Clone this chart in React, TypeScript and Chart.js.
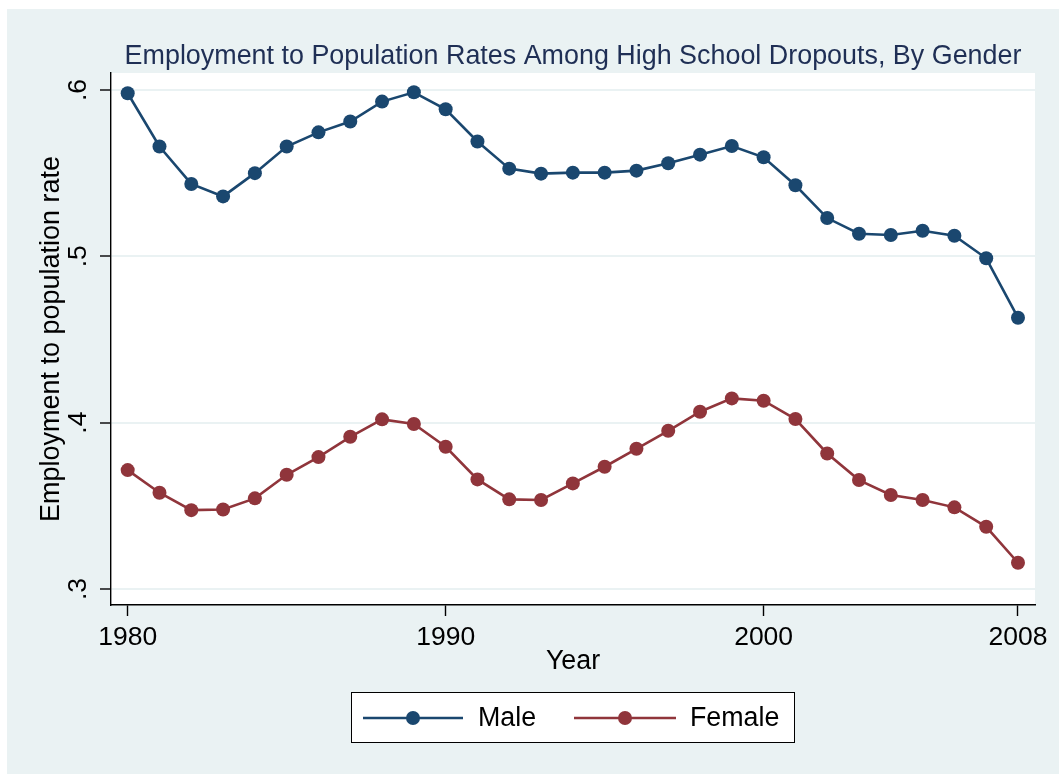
import React, { useEffect, useRef } from "react";
import { Chart, registerables } from "chart.js";

Chart.register(...registerables);

const years = [
  1980, 1981, 1982, 1983, 1984, 1985, 1986, 1987, 1988, 1989,
  1990, 1991, 1992, 1993, 1994, 1995, 1996, 1997, 1998, 1999,
  2000, 2001, 2002, 2003, 2004, 2005, 2006, 2007, 2008,
];

const maleRates = [
  0.598, 0.566, 0.5435, 0.536, 0.55, 0.566, 0.5745, 0.581, 0.593, 0.5986,
  0.5884, 0.569, 0.5527, 0.5497, 0.5503, 0.5503, 0.5515, 0.5559, 0.5611, 0.5663,
  0.5595, 0.5427, 0.523, 0.5136, 0.5128, 0.5154, 0.5124, 0.4988, 0.4631,
];

const femaleRates = [
  0.3715, 0.3579, 0.3474, 0.3478, 0.3545, 0.3687, 0.3793, 0.3915, 0.402, 0.3992,
  0.3855, 0.3659, 0.3539, 0.3535, 0.3635, 0.3735, 0.3843, 0.3951, 0.4066, 0.4146,
  0.4132, 0.4022, 0.3815, 0.3655, 0.3565, 0.3535, 0.3491, 0.3374, 0.3158,
];

const xTickValues = [1980, 1990, 2000, 2008];
const yTickValues = [0.3, 0.4, 0.5, 0.6];
const yTickLabels = [".3", ".4", ".5", ".6"];

const seriesNames = ["Male", "Female"];
const seriesColors = ["#1a476f", "#90353b"];

const titleText = "Employment to Population Rates Among High School Dropouts, By Gender";
const xTitle = "Year";
const yTitle = "Employment to population rate";

const FONT = "'Liberation Sans', Arial, sans-serif";
const BG = "#eaf2f3";

export default function App() {
  const canvasRef = useRef<HTMLCanvasElement | null>(null);

  useEffect(() => {
    document.body.style.margin = "0";
    const canvas = canvasRef.current;
    if (!canvas) return;

    const bgPlugin = {
      id: "bgPlugin",
      beforeDraw(chart: any) {
        const { ctx, chartArea } = chart;
        ctx.save();
        ctx.fillStyle = "#ffffff";
        ctx.fillRect(0, 0, chart.width, chart.height);
        ctx.fillStyle = BG;
        ctx.fillRect(7, 9, chart.width - 7, chart.height - 9);
        ctx.fillStyle = "#ffffff";
        ctx.fillRect(chartArea.left, chartArea.top, chartArea.right - chartArea.left, chartArea.bottom - chartArea.top);
        ctx.restore();
      },
    };

    const decorPlugin = {
      id: "decorPlugin",
      afterDraw(chart: any) {
        const { ctx } = chart;
        const yScale = chart.scales.y;
        ctx.save();
        // rotated y tick labels
        ctx.fillStyle = "#000";
        ctx.font = `26.5px ${FONT}`;
        ctx.textAlign = "center";
        ctx.textBaseline = "middle";
        yTickValues.forEach((v, i) => {
          const py = yScale.getPixelForValue(v);
          ctx.save();
          ctx.translate(79, py);
          ctx.rotate(-Math.PI / 2);
          ctx.fillText(yTickLabels[i], 0, 0);
          ctx.restore();
        });

        // legend box
        const bx = 351, by = 692, bw = 443, bh = 50;
        ctx.fillStyle = "#ffffff";
        ctx.fillRect(bx, by, bw, bh);
        ctx.strokeStyle = "#000";
        ctx.lineWidth = 1;
        ctx.strokeRect(bx + 0.5, by + 0.5, bw, bh);
        const cy = 718;
        const items = [
          { x0: 363, x1: 463, text: 478 },
          { x0: 574, x1: 676, text: 690 },
        ];
        items.forEach((it, i) => {
          ctx.strokeStyle = seriesColors[i];
          ctx.lineWidth = 2.6;
          ctx.beginPath();
          ctx.moveTo(it.x0, cy);
          ctx.lineTo(it.x1, cy);
          ctx.stroke();
          ctx.fillStyle = seriesColors[i];
          ctx.beginPath();
          ctx.arc((it.x0 + it.x1) / 2, cy, 7, 0, Math.PI * 2);
          ctx.fill();
          ctx.fillStyle = "#000";
          ctx.textAlign = "left";
          ctx.textBaseline = "middle";
          ctx.font = `26.8px ${FONT}`;
          ctx.fillText(seriesNames[i], it.text, cy + 1);
        });
        ctx.restore();
      },
    };

    const chart = new Chart(canvas, {
      type: "line",
      data: {
        datasets: [
          {
            label: seriesNames[0],
            data: years.map((yr, i) => ({ x: yr, y: maleRates[i] })),
            borderColor: seriesColors[0],
            backgroundColor: seriesColors[0],
            borderWidth: 2.6,
            pointRadius: 7,
            pointBorderWidth: 0,
            pointBackgroundColor: seriesColors[0],
            tension: 0,
          },
          {
            label: seriesNames[1],
            data: years.map((yr, i) => ({ x: yr, y: femaleRates[i] })),
            borderColor: seriesColors[1],
            backgroundColor: seriesColors[1],
            borderWidth: 2.6,
            pointRadius: 7,
            pointBorderWidth: 0,
            pointBackgroundColor: seriesColors[1],
            tension: 0,
          },
        ],
      },
      options: {
        animation: false,
        responsive: false,
        maintainAspectRatio: false,
        layout: { padding: { left: 0, top: 0, right: 24, bottom: 0 } },
        plugins: {
          legend: { display: false },
          tooltip: { enabled: false },
          title: {
            display: true,
            text: titleText,
            color: "#1f2f55",
            font: { family: FONT, size: 26.9, weight: "normal" },
            padding: { top: 40.7, bottom: 0 },
            fullSize: false,
          },
        },
        scales: {
          x: {
            type: "linear",
            min: 1979.475,
            max: 2008.535,
            afterBuildTicks: (scale: any) => {
              scale.ticks = xTickValues.map((v) => ({ value: v }));
            },
            afterFit: (scale: any) => {
              scale.height = 169;
              scale.paddingLeft = 0;
              scale.paddingRight = 0;
            },
            ticks: {
              color: "#000",
              font: { family: FONT, size: 26.5 },
              padding: 5.5,
              maxRotation: 0,
              minRotation: 0,
              autoSkip: false,
              callback: (v: any) => String(v),
            },
            grid: {
              drawOnChartArea: false,
              drawTicks: true,
              tickLength: 11,
              tickColor: "#000",
              tickWidth: 1.4,
            },
            border: { color: "#000", width: 1.4 },
            title: {
              display: true,
              text: xTitle,
              color: "#000",
              font: { family: FONT, size: 26.8 },
              padding: { top: 0, bottom: 96 },
            },
          },
          y: {
            type: "linear",
            min: 0.2904,
            max: 0.6102,
            afterBuildTicks: (scale: any) => {
              scale.ticks = yTickValues.map((v) => ({ value: v }));
            },
            afterFit: (scale: any) => {
              scale.width = 111;
            },
            ticks: { display: false },
            grid: {
              color: BG,
              lineWidth: 2,
              drawTicks: true,
              tickLength: 11,
              tickColor: "#000",
              tickWidth: 1.4,
            },
            border: { color: "#000", width: 1.4 },
            title: {
              display: true,
              text: yTitle,
              color: "#000",
              font: { family: FONT, size: 27 },
              padding: { top: 35, bottom: 0 },
            },
          },
        },
      },
      plugins: [bgPlugin, decorPlugin],
    } as any);

    return () => {
      chart.destroy();
    };
  }, []);

  return (
    <div style={{ width: 1059, height: 774, position: "relative" }}>
      <canvas ref={canvasRef} width={1059} height={774} style={{ display: "block", width: 1059, height: 774 }} />
    </div>
  );
}
